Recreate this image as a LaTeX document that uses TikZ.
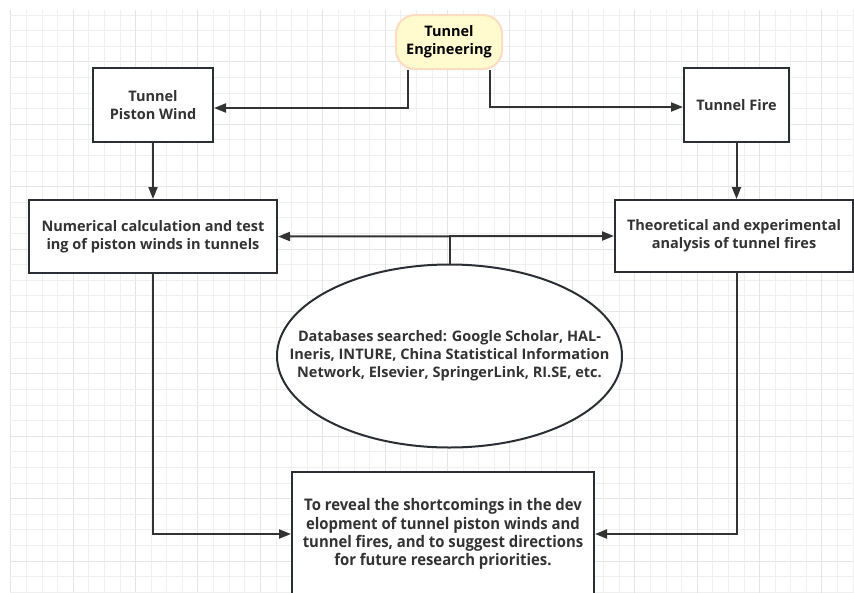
\documentclass[tikz,border=0pt]{standalone}
\usepackage{fontspec}
\setmainfont{Open Sans}
\newfontfamily\narrowfont[FakeStretch=0.93]{Open Sans}
\usetikzlibrary{shapes.geometric,arrows.meta}
\definecolor{gridminor}{HTML}{EFEFEF}
\definecolor{gridmajor}{HTML}{E4E4E4}
\definecolor{ink}{HTML}{333333}
\definecolor{boxline}{HTML}{2B2E33}
\definecolor{engfill}{HTML}{FFFBCF}
\definecolor{engline}{HTML}{FDDCC2}
\tikzset{
  lbl/.style={font=\bfseries\fontsize{14.5}{18}\selectfont, text=ink, align=center},
  boxnode/.style={lbl, draw=boxline, line width=2pt, fill=white, inner sep=0pt},
  conn/.style={draw=ink, line width=2pt},
  arr/.style={conn, -{Triangle[length=12pt,width=9pt]}},
  darr/.style={conn, {Triangle[length=12pt,width=9pt]}-{Triangle[length=12pt,width=9pt]}},
}
\begin{document}
\begin{tikzpicture}[x=1pt,y=-1pt]
\useasboundingbox (0,0) rectangle (854,592);
\fill[white] (0,0) rectangle (854,592);
% grid
\begin{scope}
\clip (10,10) rectangle (854,592);
\foreach \i in {0,...,55} {
  \pgfmathsetmacro{\xx}{10.7+15.6*\i}
  \pgfmathsetmacro{\yy}{-0.6+15.6*\i}
  \pgfmathtruncatemacro{\mm}{mod(\i,4)}
  \ifnum\mm=0
    \draw[gridmajor, line width=1pt] (\xx,0) -- (\xx,600);
    \draw[gridmajor, line width=1pt] (0,\yy) -- (860,\yy);
  \else
    \draw[gridminor, line width=0.8pt] (\xx,0) -- (\xx,600);
    \draw[gridminor, line width=0.8pt] (0,\yy) -- (860,\yy);
  \fi
}
\end{scope}
% nodes
\node[lbl, text=black, draw=engline, fill=engfill, line width=2pt, rounded corners=19pt,
      minimum width=106pt, minimum height=54pt, inner sep=0pt] (eng) at (449,42) {Tunnel\\Engineering};
\node[boxnode, minimum width=120pt, minimum height=74pt] (wind) at (153,105) {Tunnel\\Piston Wind};
\node[boxnode, minimum width=105pt, minimum height=74pt] (fire) at (736.5,105) {Tunnel Fire};
\node[boxnode, minimum width=248pt, minimum height=73pt] (num) at (153,236.5) {Numerical calculation and test\\ing of piston winds in tunnels};
\node[boxnode, minimum width=238pt, minimum height=72pt] (theo) at (734,236) {Theoretical and experimental\\analysis of tunnel fires};
\node[draw=boxline, line width=2pt, fill=white, ellipse, minimum width=345pt, minimum height=183pt, inner sep=0pt] (db) at (449.5,356) {};
\node[lbl, inner sep=0pt] (dbtext) at (db.center)
  {Databases searched: Google Scholar, HAL-\\Ineris, INTURE, China Statistical Information\\Network, Elsevier, SpringerLink, RI.SE, etc.};
\node[boxnode, font=\narrowfont\bfseries\fontsize{16}{18.3}\selectfont, minimum width=302pt, minimum height=124pt] (res) at (443,534)
  {To reveal the shortcomings in the dev\\elopment of tunnel piston winds and\\tunnel fires, and to suggest directions\\for future research priorities.};
% connectors
\draw[arr] ([xshift=-41pt]eng.south) |- ([yshift=-3pt]wind.east);
\draw[arr] ([xshift=41pt]eng.south) |- ([yshift=-2pt]fire.west);
\draw[arr] (wind.south) -- (num.north);
\draw[arr] (fire.south) -- (fire.south |- theo.north);
\draw[darr] (num.east) -- (theo.west);
\draw[conn] (db.north) -- (db.north |- num.east);
\draw[arr] (num.south) |- (res.west);
\draw[arr] (theo.south -| fire.south) |- (res.east);
\end{tikzpicture}
\end{document}
